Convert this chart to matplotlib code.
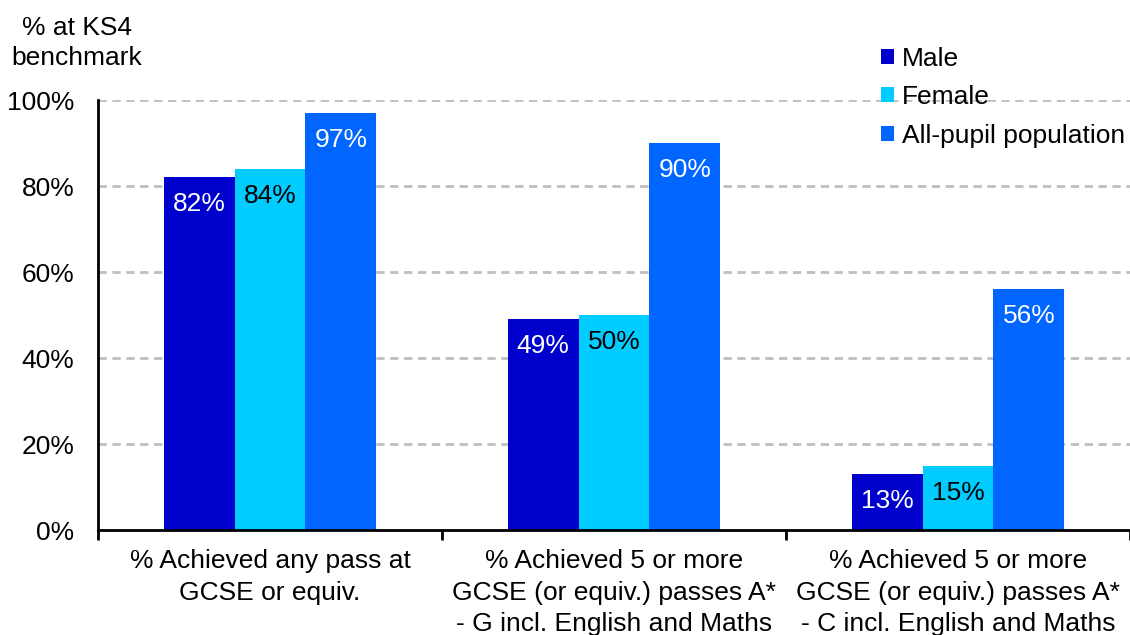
import matplotlib
matplotlib.use("Agg")
import matplotlib.pyplot as plt
import numpy as np

plt.rcParams['font.family'] = ['Liberation Sans', 'DejaVu Sans']

categories = [
    "% Achieved any pass at\nGCSE or equiv.",
    "% Achieved 5 or more\nGCSE (or equiv.) passes A*\n- G incl. English and Maths",
    "% Achieved 5 or more\nGCSE (or equiv.) passes A*\n- C incl. English and Maths",
]
series_names = ["Male", "Female", "All-pupil population"]
male = [82, 49, 13]
female = [84, 50, 15]
all_pupil = [97, 90, 56]
y_ticks = [0, 20, 40, 60, 80, 100]
y_tick_labels = ["0%", "20%", "40%", "60%", "80%", "100%"]

colors = ["#0000CC", "#00CCFF", "#0066FF"]
text_colors = ["white", "black", "white"]
fs = 19

fig = plt.figure(figsize=(11.3, 6.35), dpi=100)
ax = fig.add_axes([98 / 1130, 1 - 530 / 635, 1 - 98 / 1130, (530 - 100) / 635])

x = np.arange(len(categories))
width = 0.206
values = [male, female, all_pupil]
for i, (name, vals) in enumerate(zip(series_names, values)):
    pos = x + (i - 1) * width
    bars = ax.bar(pos, vals, width=width, color=colors[i], label=name, zorder=3)
    for b, v in zip(bars, vals):
        ax.annotate(f"{v}%", (b.get_x() + b.get_width() / 2, v),
                    xytext=(0, -27), textcoords="offset pixels",
                    ha="center", va="center", fontsize=fs,
                    color=text_colors[i], zorder=4)

ax.set_xlim(-0.5, 2.5)
ax.set_ylim(0, 100)
ax.set_yticks(y_ticks)
ax.set_yticklabels(y_tick_labels, fontsize=fs)
ax.tick_params(axis="y", length=0, pad=17)

ax.set_xticks(x)
ax.set_xticklabels(categories, fontsize=fs, linespacing=1.38)
ax.tick_params(axis="x", which="major", length=0, pad=14)
ax.set_xticks([-0.5, 0.5, 1.5, 2.5], minor=True)
ax.tick_params(axis="x", which="minor", length=7, width=2, color="black")

for yv in y_ticks[1:]:
    ax.axhline(yv, color="#BFBFBF", linestyle=(0, (3, 2)), linewidth=2, zorder=1)

for s in ["top", "right"]:
    ax.spines[s].set_visible(False)
for s in ["left", "bottom"]:
    ax.spines[s].set_linewidth(2)
    ax.spines[s].set_color("black")
    ax.spines[s].set_zorder(5)

fig.text(77 / 1130, 1 - 43 / 635, "% at KS4\nbenchmark", fontsize=fs,
         ha="center", va="center", multialignment="center", linespacing=1.3)

leg = ax.legend(loc="upper left", bbox_to_anchor=(870 / 1130, 1 - 36 / 635),
                bbox_transform=fig.transFigure, frameon=False, fontsize=fs,
                handlelength=0.5, handleheight=0.5, handletextpad=0.3,
                labelspacing=0.55, borderaxespad=0)

fig.savefig("out.png", dpi=100)
